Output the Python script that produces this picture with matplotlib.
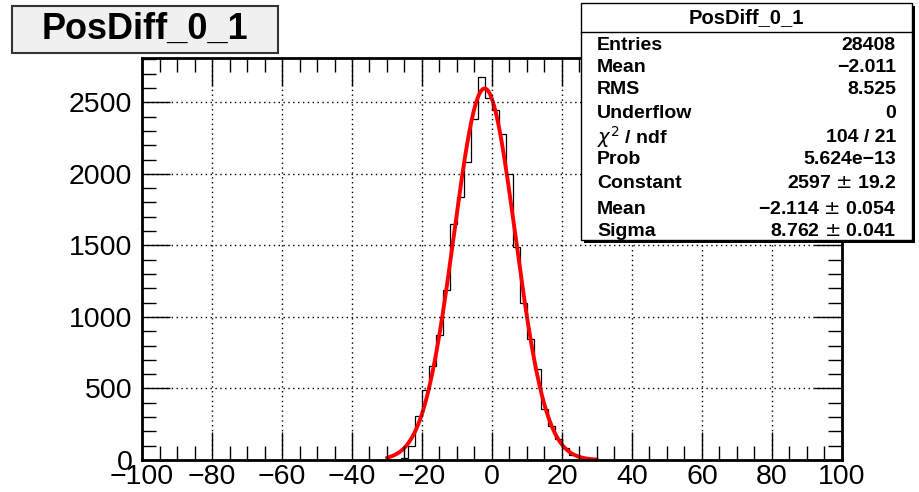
import numpy as np
import matplotlib
matplotlib.use("Agg")
import matplotlib.pyplot as plt
from matplotlib.patches import Rectangle
from matplotlib.ticker import MultipleLocator

plt.rcParams['font.family'] = ['Liberation Sans', 'DejaVu Sans']

# ---- data ----
title = "PosDiff_0_1"
bin_edges = list(range(-28, 30, 2))
counts = [3, 12, 95, 308, 486, 660, 874, 1191, 1649, 1835, 2081, 2386, 2679,
          2528, 2447, 2277, 2000, 1488, 1098, 847, 637, 358, 237, 148, 84, 34, 18, 4]
fit_constant = 2597.0
fit_mean = -2.114
fit_sigma = 8.762
fit_range = (-30, 30)
stat_labels = ["Entries", "Mean", "RMS", "Underflow", r"$\chi^{2}$ / ndf", "Prob",
               "Constant", "Mean", "Sigma"]
stat_values = ["28408", "\u22122.011", "8.525", "0", "104 / 21", "5.624e\u221213",
               "2597 $\\pm$ 19.2", "\u22122.114 $\\pm$ 0.054", "8.762 $\\pm$ 0.041"]
x_range = (-100, 100)
y_max = 2810

W, H = 919, 492
fig = plt.figure(figsize=(W / 100, H / 100), dpi=100)
ax = fig.add_axes([142 / W, 1 - 460 / H, 700 / W, 402 / H])

ax.stairs(counts, bin_edges, color='black', linewidth=0.9, baseline=0)
xf = np.linspace(fit_range[0], fit_range[1], 400)
yf = fit_constant * np.exp(-0.5 * ((xf - fit_mean) / fit_sigma) ** 2)
ax.plot(xf, yf, color='#ff0000', linewidth=2.8, solid_capstyle='round')

ax.set_xlim(*x_range)
ax.set_ylim(0, y_max)
ax.xaxis.set_major_locator(MultipleLocator(20))
ax.xaxis.set_minor_locator(MultipleLocator(5))
ax.yaxis.set_major_locator(MultipleLocator(500))
ax.yaxis.set_minor_locator(MultipleLocator(100))
ax.grid(True, which='major', color='black', linestyle=(0, (1, 2.5)), linewidth=1.0)
ax.tick_params(which='both', direction='in', top=True, right=True, color='black')
ax.tick_params(which='major', length=20, width=1.0, labelsize=20.5)
ax.tick_params(which='minor', length=10, width=1.0)
ax.tick_params(axis='x', which='major', pad=3)
ax.tick_params(axis='y', which='major', pad=7)
for s in ax.spines.values():
    s.set_linewidth(2.0)
ax.set_axisbelow(False)

# title box
tb = Rectangle((12 / W, 1 - 53 / H), 266 / W, 47 / H, transform=fig.transFigure,
               facecolor='#f0f0f0', edgecolor='#333333', linewidth=1.5, zorder=5)
fig.patches.append(tb)
fig.text(145 / W, 1 - 29 / H, title, ha='center', va='center', fontsize=26,
         fontweight='bold', zorder=6)

# stats box with shadow
sx0, sy0, sx1, sy1 = 581, 3, 912, 240
shadow = Rectangle(((sx0 + 3) / W, 1 - (sy1 + 3) / H), (sx1 - sx0) / W, (sy1 - sy0) / H,
                   transform=fig.transFigure, facecolor='black', edgecolor='black',
                   linewidth=0, zorder=7)
box = Rectangle((sx0 / W, 1 - sy1 / H), (sx1 - sx0) / W, (sy1 - sy0) / H,
                transform=fig.transFigure, facecolor='white', edgecolor='black',
                linewidth=1.0, zorder=8)
fig.patches.extend([shadow, box])
fig.add_artist(plt.Line2D([sx0 / W, sx1 / W], [1 - 32 / H, 1 - 32 / H],
                          transform=fig.transFigure, color='black', linewidth=1.0, zorder=9))
fig.text((sx0 + sx1) / 2 / W, 1 - 18 / H, title, ha='center', va='center',
         fontsize=14.5, fontweight='bold', zorder=10)
row_y = [45, 67, 90, 113, 137, 160, 184, 209, 231]
for lab, val, yy in zip(stat_labels, stat_values, row_y):
    fig.text(597 / W, 1 - yy / H, lab, ha='left', va='center', fontsize=14,
             fontweight='bold', zorder=10)
    fig.text(896 / W, 1 - yy / H, val, ha='right', va='center', fontsize=14,
             fontweight='bold', zorder=10)

fig.savefig("out.png", dpi=100)
